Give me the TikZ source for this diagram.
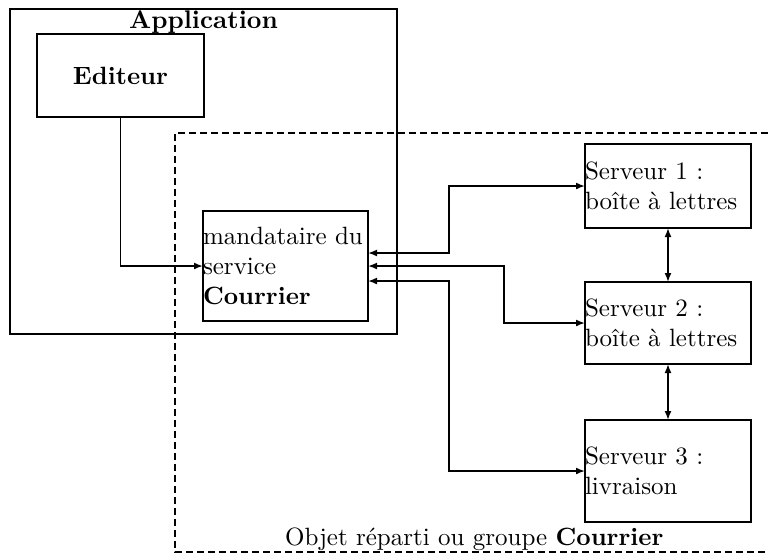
\documentclass[tikz,border=0pt]{standalone}
\usepackage{fontspec}
\setmainfont{lmroman10-regular.otf}[BoldFont=lmroman10-bold.otf, ItalicFont=lmroman10-italic.otf, BoldItalicFont=lmroman10-bolditalic.otf]
\usetikzlibrary{arrows.meta}
\begin{document}
\begin{tikzpicture}[x=1pt,y=-1pt,
  font=\fontsize{25}{30}\selectfont,
  boxst/.style={draw, line width=1.7pt, rectangle, inner sep=0pt, outer sep=0pt},
  lbox/.style={boxst, text width=166pt, align=left},
  conn/.style={line width=1.7pt, {Latex[length=9pt,width=7pt]}-{Latex[length=9pt,width=7pt]}},
  conn1/.style={line width=1.7pt, -{Latex[length=9pt,width=7pt]}},
  grp/.style={line width=1.6pt, dash pattern=on 7pt off 4pt}]
\useasboundingbox (0,0) rectangle (768,558);
% Application
\node[boxst, anchor=north west, minimum width=387pt, minimum height=325pt] (app) at (10,9) {};
\node[anchor=north, inner sep=0pt, yshift=-1pt, font=\fontsize{25.5}{30}\selectfont\bfseries] (applbl) at (app.north) {Application};
\node[boxst, minimum width=167pt, minimum height=83pt, font=\fontsize{25}{30}\selectfont\bfseries] (edit) at (120.5,75.5) {Editeur};
% group
\coordinate (gtr) at (768,133);
\coordinate (gtl) at (175,133);
\coordinate (gbl) at (175,552);
\coordinate (gbr) at (768,552);
\draw[grp] (gtr) -- (gtl) -- (gbl) -- (gbr);
\node[anchor=base west, inner sep=0pt] (grplbl) at (285,545) {Objet réparti ou groupe \textbf{Courrier}};
% proxy
\node[lbox, text width=165pt, minimum height=110pt, anchor=north west] (mand) at (203,211) {mandataire du\\service\\\textbf{Courrier}};
% servers
\node[lbox, minimum height=84pt, anchor=north west] (s1) at (585,144) {Serveur 1 :\\boîte à lettres};
\node[lbox, minimum height=82pt, anchor=north west] (s2) at (585,282) {Serveur 2 :\\boîte à lettres};
\node[lbox, minimum height=102pt, anchor=north west] (s3) at (585,420) {Serveur 3 :\\livraison};
% connectors
\draw[conn1] (edit.south) |- (mand.west);
\draw[conn] ([yshift=13pt]mand.east) -- ++(81,0) |- (s1.west);
\draw[conn] (mand.east) -- ++(136,0) |- (s2.west);
\draw[conn] ([yshift=-15pt]mand.east) -- ++(81,0) |- (s3.west);
\draw[conn] (s1.south) -- (s2.north);
\draw[conn] (s2.south) -- (s3.north);
\end{tikzpicture}
\end{document}
